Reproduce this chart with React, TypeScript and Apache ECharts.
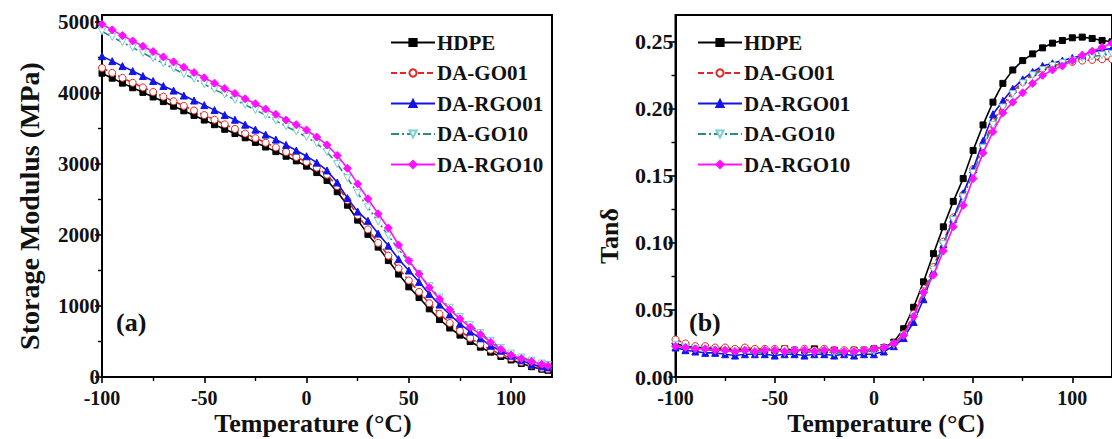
import React, { useEffect, useRef } from 'react';
import * as echarts from 'echarts';

// ---------- Panel (a): storage modulus (MPa) ----------
const tempA = [-100, -95, -90, -85, -80, -75, -70, -65, -60, -55, -50, -45, -40, -35, -30, -25, -20, -15, -10, -5, 0, 5, 10, 15, 20, 25, 30, 35, 40, 45, 50, 55, 60, 65, 70, 75, 80, 85, 90, 95, 100, 105, 110, 115, 118];
const hdpeE = [4280, 4210, 4140, 4075, 4010, 3945, 3880, 3815, 3750, 3685, 3620, 3555, 3490, 3430, 3370, 3305, 3240, 3175, 3110, 3045, 2970, 2880, 2770, 2610, 2420, 2210, 2010, 1830, 1640, 1450, 1270, 1120, 960, 810, 690, 590, 500, 420, 350, 290, 240, 190, 145, 110, 95];
const go01E = [4355, 4285, 4215, 4145, 4080, 4015, 3950, 3885, 3820, 3755, 3690, 3625, 3560, 3495, 3430, 3365, 3300, 3235, 3170, 3100, 3030, 2950, 2850, 2690, 2490, 2280, 2080, 1890, 1710, 1530, 1360, 1200, 1040, 890, 760, 650, 550, 460, 385, 320, 265, 210, 165, 125, 110];
const rgo01E = [4520, 4450, 4380, 4310, 4240, 4170, 4100, 4035, 3965, 3895, 3830, 3760, 3690, 3625, 3555, 3485, 3415, 3345, 3270, 3190, 3110, 3020, 2910, 2740, 2520, 2330, 2200, 2020, 1850, 1660, 1500, 1340, 1170, 1020, 880, 750, 640, 545, 440, 370, 300, 235, 175, 150, 135];
const go10E = [4870, 4790, 4715, 4640, 4565, 4490, 4420, 4345, 4270, 4200, 4125, 4050, 3980, 3905, 3835, 3760, 3690, 3610, 3530, 3460, 3380, 3290, 3170, 3000, 2800, 2590, 2390, 2190, 1990, 1800, 1620, 1450, 1280, 1120, 975, 845, 730, 620, 510, 410, 330, 275, 230, 190, 170];
const rgo10E = [4970, 4890, 4810, 4735, 4660, 4585, 4510, 4440, 4365, 4290, 4215, 4140, 4065, 3995, 3920, 3850, 3775, 3700, 3620, 3555, 3480, 3380, 3270, 3120, 2940, 2720, 2510, 2300, 2100, 1860, 1640, 1450, 1260, 1100, 950, 820, 700, 600, 490, 390, 310, 260, 220, 180, 160];

// ---------- Panel (b): tan delta ----------
const tempB = [-100, -95, -90, -85, -80, -75, -70, -65, -60, -55, -50, -45, -40, -35, -30, -25, -20, -15, -10, -5, 0, 5, 10, 15, 20, 25, 30, 35, 40, 45, 50, 55, 60, 65, 70, 75, 80, 85, 90, 95, 100, 105, 110, 115, 120];
const hdpeT = [0.025, 0.023, 0.022, 0.022, 0.021, 0.021, 0.020, 0.021, 0.020, 0.020, 0.020, 0.021, 0.020, 0.020, 0.021, 0.020, 0.020, 0.019, 0.020, 0.020, 0.021, 0.022, 0.026, 0.036, 0.052, 0.071, 0.092, 0.112, 0.131, 0.148, 0.169, 0.188, 0.205, 0.219, 0.229, 0.236, 0.241, 0.2455, 0.249, 0.251, 0.253, 0.2535, 0.2525, 0.251, 0.250];
const go01T = [0.028, 0.025, 0.023, 0.023, 0.022, 0.022, 0.021, 0.022, 0.021, 0.021, 0.021, 0.021, 0.020, 0.021, 0.020, 0.021, 0.020, 0.020, 0.020, 0.020, 0.021, 0.022, 0.025, 0.032, 0.047, 0.064, 0.082, 0.101, 0.119, 0.136, 0.155, 0.173, 0.190, 0.203, 0.213, 0.220, 0.226, 0.230, 0.232, 0.234, 0.235, 0.236, 0.2365, 0.237, 0.237];
const rgo01T = [0.022, 0.020, 0.019, 0.018, 0.018, 0.017, 0.016, 0.017, 0.017, 0.017, 0.016, 0.017, 0.017, 0.016, 0.017, 0.017, 0.016, 0.017, 0.016, 0.017, 0.017, 0.019, 0.023, 0.029, 0.041, 0.058, 0.079, 0.099, 0.118, 0.137, 0.155, 0.176, 0.196, 0.206, 0.215, 0.222, 0.2275, 0.232, 0.234, 0.236, 0.238, 0.240, 0.2425, 0.244, 0.245];
const go10T = [0.024, 0.022, 0.021, 0.020, 0.020, 0.019, 0.019, 0.019, 0.018, 0.019, 0.019, 0.018, 0.019, 0.019, 0.018, 0.019, 0.018, 0.018, 0.018, 0.019, 0.019, 0.021, 0.024, 0.031, 0.045, 0.062, 0.080, 0.099, 0.117, 0.134, 0.152, 0.171, 0.188, 0.201, 0.211, 0.219, 0.225, 0.229, 0.232, 0.234, 0.236, 0.238, 0.239, 0.240, 0.241];
const rgo10T = [0.023, 0.022, 0.021, 0.021, 0.020, 0.020, 0.019, 0.020, 0.019, 0.020, 0.020, 0.019, 0.020, 0.020, 0.019, 0.020, 0.020, 0.019, 0.019, 0.020, 0.021, 0.022, 0.025, 0.031, 0.045, 0.063, 0.076, 0.094, 0.112, 0.128, 0.148, 0.167, 0.183, 0.197, 0.205, 0.212, 0.219, 0.225, 0.229, 0.232, 0.236, 0.240, 0.243, 0.246, 0.249];

// ---------- axes / labels ----------
const seriesNames = ['HDPE', 'DA-GO01', 'DA-RGO01', 'DA-GO10', 'DA-RGO10'];
const xMajorTicks = [-100, -50, 0, 50, 100];
const xMinorTicks = [-75, -25, 25, 75];
const yAMajorTicks = [0, 1000, 2000, 3000, 4000, 5000];
const yAMinorTicks = [500, 1500, 2500, 3500, 4500];
const yBMajorTicks = [0, 0.05, 0.1, 0.15, 0.2, 0.25];
const yBMinorTicks = [0.025, 0.075, 0.125, 0.175, 0.225];

const FONT = '"Liberation Serif", "Times New Roman", serif';

const looks = [
  { line: '#000000', fill: '#000000', border: '#000000', symbol: 'rect', size: 6, dash: 'solid' as any },
  { line: '#e3261f', fill: '#ffffff', border: '#e3261f', symbol: 'circle', size: 7, dash: [6, 3] as any },
  { line: '#1414e6', fill: '#1414e6', border: '#1414e6', symbol: 'triangle', size: 7, dash: 'solid' as any },
  { line: '#2a8a84', fill: '#ffffff', border: '#78cfd0', symbol: 'path://M0,0L10,0L5,9Z', size: 7, dash: [8, 3, 2, 3] as any },
  { line: '#ff10ff', fill: '#ff10ff', border: '#ff10ff', symbol: 'diamond', size: 8, dash: 'solid' as any },
];

function makeSeries(idx: number, temps: number[], vals: number[], axisIndex: number) {
  const lk = looks[idx];
  return {
    name: seriesNames[idx],
    type: 'line',
    xAxisIndex: axisIndex,
    yAxisIndex: axisIndex,
    data: temps.map((t, i) => [t, vals[i]]),
    symbol: lk.symbol,
    symbolSize: lk.size,
    showAllSymbol: true,
    color: lk.line,
    lineStyle: { color: lk.line, width: 1.6, type: lk.dash },
    itemStyle: { color: lk.fill, borderColor: lk.border, borderWidth: 1 },
    emphasis: { disabled: true },
    z: 3 + idx,
  };
}

function xAxes(grid: number) {
  return [
    {
      gridIndex: grid, type: 'value', min: -100, max: 120, position: 'bottom',
      axisLine: { onZero: false, lineStyle: { color: '#000', width: 2 } },
      axisTick: { customValues: xMajorTicks, length: 6, lineStyle: { color: '#000', width: 1.6 } },
      axisLabel: { customValues: xMajorTicks, fontFamily: FONT, fontWeight: 'bold', fontSize: 20, lineHeight: 16, color: '#111', margin: 13 },
      splitLine: { show: false },
    },
    {
      gridIndex: grid, type: 'value', min: -100, max: 120, position: 'bottom',
      axisLine: { show: false, onZero: false },
      axisTick: { customValues: xMinorTicks, length: 4, lineStyle: { color: '#000', width: 1.4 } },
      axisLabel: { show: false },
      splitLine: { show: false },
    },
  ];
}

function yAxes(grid: number, max: number, major: number[], minor: number[], fmt: (v: number) => string, fs: number) {
  return [
    {
      gridIndex: grid, type: 'value', min: 0, max, position: 'left',
      axisLine: { onZero: false, lineStyle: { color: '#000', width: 2 } },
      axisTick: { customValues: major, length: 7, lineStyle: { color: '#000', width: 1.6 } },
      axisLabel: { customValues: major, formatter: fmt, fontFamily: FONT, fontWeight: 'bold', fontSize: fs, lineHeight: 15, color: '#111', margin: 2 },
      splitLine: { show: false },
    },
    {
      gridIndex: grid, type: 'value', min: 0, max, position: 'left',
      axisLine: { show: false, onZero: false },
      axisTick: { customValues: minor, length: 4, lineStyle: { color: '#000', width: 1.4 } },
      axisLabel: { show: false },
      splitLine: { show: false },
    },
  ];
}

function legendAt(left: number) {
  return {
    orient: 'vertical', left, top: 27, itemWidth: 44, itemHeight: 9, itemGap: 9.5,
    selectedMode: false,
    data: seriesNames,
    textStyle: { fontFamily: FONT, fontWeight: 'bold', fontSize: 21, color: '#111', lineHeight: 19, padding: [0, 0, 0, -3] },
  };
}

export default function App() {
  const ref = useRef<HTMLDivElement>(null);
  useEffect(() => {
    if (!ref.current) return;
    const chart = echarts.init(ref.current, null, { renderer: 'svg' });
    const seriesA = [hdpeE, go01E, rgo01E, go10E, rgo10E].map((v, i) => makeSeries(i, tempA, v, 0));
    const seriesB = [hdpeT, go01T, rgo01T, go10T, rgo10T].map((v, i) => makeSeries(i, tempB, v, 2));
    const option: any = {
      animation: false,
      backgroundColor: '#ffffff',
      grid: [
        { left: 102, top: 15, width: 450, height: 362, show: true, borderColor: '#000', borderWidth: 2, backgroundColor: 'transparent' },
        { left: 675.5, top: 15, width: 447, height: 362, show: true, borderColor: '#000', borderWidth: 2, backgroundColor: 'transparent' },
      ],
      xAxis: [...xAxes(0), ...xAxes(1)],
      yAxis: [
        ...yAxes(0, 5100, yAMajorTicks, yAMinorTicks, (v: number) => String(v), 21),
        ...yAxes(1, 0.27, yBMajorTicks, yBMinorTicks, (v: number) => v.toFixed(2), 22),
      ],
      legend: [legendAt(385), legendAt(692)],
      series: [...seriesA, ...seriesB],
      graphic: [
        { type: 'text', x: 29, y: 206, rotation: Math.PI / 2, style: { text: 'Storage Modulus (MPa)', font: `bold 28px ${FONT}`, fill: '#111', align: 'center', verticalAlign: 'middle' } },
        { type: 'text', x: 609, y: 236, rotation: Math.PI / 2, style: { text: 'Tanδ', font: `bold 26px ${FONT}`, fill: '#111', align: 'center', verticalAlign: 'middle' } },
        { type: 'text', x: 313, y: 423, style: { text: 'Temperature (°C)', font: `bold 26px ${FONT}`, fill: '#111', align: 'center', verticalAlign: 'middle' } },
        { type: 'text', x: 886, y: 423, style: { text: 'Temperature (°C)', font: `bold 26px ${FONT}`, fill: '#111', align: 'center', verticalAlign: 'middle' } },
        { type: 'text', x: 116, y: 322, style: { text: '(a)', font: `bold 26px ${FONT}`, fill: '#111', align: 'left', verticalAlign: 'middle' } },
        { type: 'text', x: 689, y: 322, style: { text: '(b)', font: `bold 26px ${FONT}`, fill: '#111', align: 'left', verticalAlign: 'middle' } },
      ],
    };
    chart.setOption(option);
    return () => chart.dispose();
  }, []);
  return <div ref={ref} style={{ position: 'absolute', left: 0, top: 0, width: 1112, height: 439, background: '#fff', overflow: 'hidden' }} />;
}
